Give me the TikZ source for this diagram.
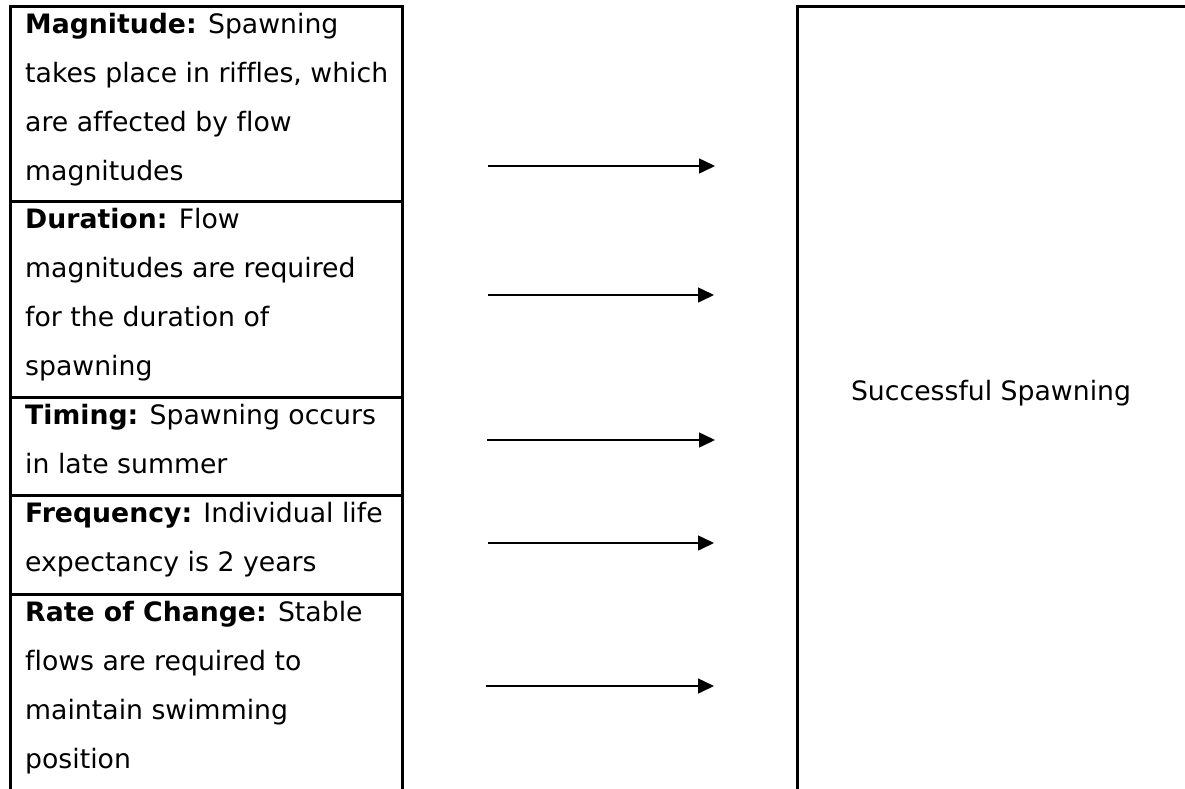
\documentclass[tikz,border=0pt]{standalone}
\usepackage{fontspec}
\setmainfont{DejaVu Sans}[Ligatures=NoCommon]
\usetikzlibrary{arrows.meta}
\begin{document}
\begin{tikzpicture}[x=1pt,y=-1pt,
  border/.style={line width=3pt,line cap=rect},
  sep/.style={line width=3pt},
  flow/.style={line width=1.5pt,-{Triangle[length=16pt,width=15pt]}},
  txt/.style={anchor=base west,inner sep=0pt,font=\fontsize{26.7}{49}\selectfont},
  ctxt/.style={anchor=base,inner sep=0pt,font=\fontsize{26.7}{49}\selectfont}]
\useasboundingbox (0,0) rectangle (1185,788);
% left column frame
\coordinate (lbl) at (10,788);
\coordinate (ltl) at (10,6);
\coordinate (ltr) at (402,6);
\coordinate (lbr) at (402,788);
\draw[border] (lbl) -- (ltl) -- (ltr) -- (lbr);
\foreach \y/\n in {201/s1,397/s2,495/s3,594/s4}{
  \coordinate (\n l) at (10,\y);
  \coordinate (\n r) at (402,\y);
  \draw[sep] (\n l) -- (\n r);
}
% right box frame
\coordinate (rtr) at (1185,6);
\coordinate (rtl) at (797,6);
\coordinate (rbl) at (797,788);
\draw[border] (rtr) -- (rtl) -- (rbl);
% texts
\node[txt] (m1) at (25,33)  {\textbf{Magnitude:} Spawning};
\node[txt] (m2) at (25,82)  {takes place in riffles, which};
\node[txt] (m3) at (25,131) {are affected by flow};
\node[txt] (m4) at (25,180) {magnitudes};
\node[txt] (d1) at (25,228) {\textbf{Duration:} Flow};
\node[txt] (d2) at (25,277) {magnitudes are required};
\node[txt] (d3) at (25,326) {for the duration of};
\node[txt] (d4) at (25,375) {spawning};
\node[txt] (t1) at (25,424) {\textbf{Timing:} Spawning occurs};
\node[txt] (t2) at (25,473) {in late summer};
\node[txt] (f1) at (25,522) {\textbf{Frequency:} Individual life};
\node[txt] (f2) at (25,571) {expectancy is 2 years};
\node[txt] (r1) at (25,621) {\textbf{Rate of Change:} Stable};
\node[txt] (r2) at (25,670) {flows are required to};
\node[txt] (r3) at (25,719) {maintain swimming};
\node[txt] (r4) at (25,768) {position};
\node[ctxt] (succ) at (991,400) {Successful Spawning};
% arrows
\foreach \y/\a/\b/\n in {166/488/715/a1,295/488/714/a2,440/487/715/a3,543/488/714/a4,686/486/714/a5}{
  \coordinate (\n s) at (\a,\y);
  \coordinate (\n e) at (\b,\y);
  \draw[flow] (\n s) -- (\n e);
}
\end{tikzpicture}
\end{document}
